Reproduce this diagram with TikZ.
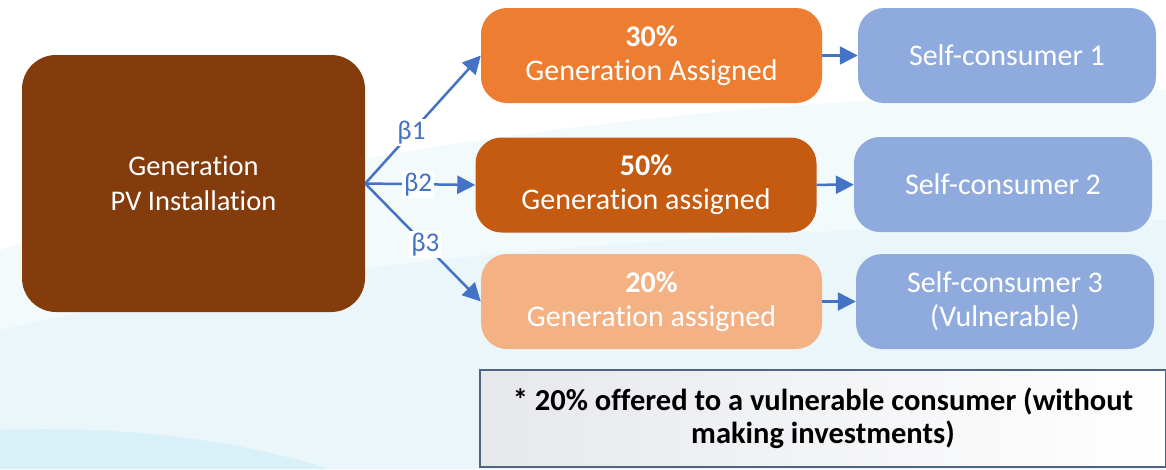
\documentclass[tikz,border=0pt]{standalone}
\usepackage{fontspec}
\setmainfont{Carlito}[Ligatures={NoCommon}]
\usepackage{xcolor}
\usepackage{tikz}
\usetikzlibrary{arrows.meta,shapes,positioning}

\definecolor{pvbrown}{HTML}{843C0C}
\definecolor{genorange}{HTML}{ED7D31}
\definecolor{gendark}{HTML}{C55A11}
\definecolor{genlight}{HTML}{F4B183}
\definecolor{consblue}{HTML}{8FAADC}
\definecolor{flowblue}{HTML}{4472C4}
\definecolor{noteline}{HTML}{50647E}
\definecolor{notegray}{HTML}{E6E8EC}
\definecolor{wavelight}{HTML}{F3FAFC}
\definecolor{wavemid}{HTML}{EAF6FA}
\definecolor{wavedeep}{HTML}{D8F1F8}

\begin{document}
\begin{tikzpicture}[x=1pt, y=-1pt,
    box/.style={rounded corners=26pt, align=center, text=white, inner sep=0pt,
                font=\fontsize{30}{34}\selectfont},
    genbox/.style={box, minimum width=341pt, minimum height=95pt},
    consbox/.style={box, fill=consblue, minimum width=298pt, minimum height=95pt},
    flow/.style={draw=flowblue, line width=2.5pt, -{Triangle[length=18pt,width=18pt]}},
    beta/.style={fill=white, text=flowblue, inner sep=2pt,
                 font=\fontsize{27}{29}\selectfont}]
    \useasboundingbox (0,0) rectangle (1166,469);

    % background waves
    \fill[white] (0,0) rectangle (1166,469);
    \fill[wavelight] (0,250) .. controls (300,150) and (700,95) .. (1166,90)
        -- (1166,469) -- (0,469) -- cycle;
    \fill[wavemid] (0,330) .. controls (350,250) and (750,230) .. (1166,220)
        -- (1166,469) -- (0,469) -- cycle;
    \fill[wavedeep] (0,430) .. controls (150,425) and (250,445) .. (330,469)
        -- (0,469) -- cycle;

    \node[box, fill=pvbrown, minimum width=343pt, minimum height=257pt, rounded corners=34pt,
          font=\fontsize{28.5}{35}\selectfont] (pv) at (193.5,183.5) {Generation\\PV Installation};

    \node[genbox, fill=genorange] (gen1) at (651.5,55.5) {\textbf{30\%}\\Generation Assigned};
    \node[genbox, fill=gendark] (gen2) at (646,185) {\textbf{50\%}\\Generation assigned};
    \node[genbox, fill=genlight] (gen3) at (651.5,301.5) {\textbf{20\%}\\Generation assigned};

    \node[consbox] (cons1) at (1007,55.5) {Self-consumer 1};
    \node[consbox] (cons2) at (1003,184.5) {Self-consumer 2};
    \node[consbox] (cons3) at (1005,301.5) {Self-consumer 3\\(Vulnerable)};

    \node[draw=noteline, line width=2pt, left color=notegray, right color=white,
          minimum width=686pt, minimum height=97pt, align=center, inner sep=0pt,
          font=\bfseries\fontsize{30.5}{33}\selectfont] (note) at (823,418.5)
          {* 20\% offered to a vulnerable consumer (without\\making investments)};

    \draw[flow] (pv.east) -- (gen1.west) node[beta, pos=0.4] {β1};
    \draw[flow] (pv.east) -- (gen2.west) node[beta, pos=0.48] {β2};
    \draw[flow] (pv.east) -- (gen3.west) node[beta, pos=0.52] {β3};

    \draw[flow] (gen1) -- (cons1);
    \draw[flow] (gen2) -- (cons2);
    \draw[flow] (gen3) -- (cons3);
\end{tikzpicture}
\end{document}
